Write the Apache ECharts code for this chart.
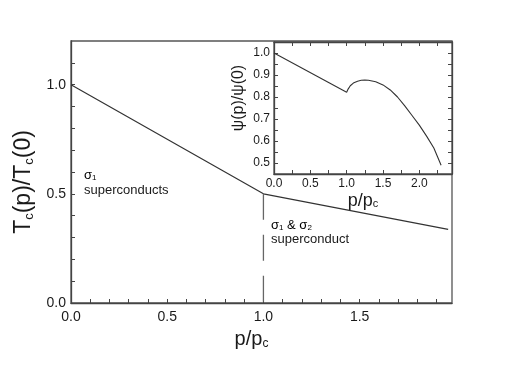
<!DOCTYPE html>
<html><head><meta charset="utf-8">
<script src="https://cdn.jsdelivr.net/npm/echarts@6/dist/echarts.min.js"></script>
<style>html,body{margin:0;padding:0;background:#fff}#c{width:524px;height:365px}</style>
</head><body><div id="c"></div>
<script>
// Main panel: Tc(p)/Tc(0) vs p/pc
const mainP = [0, 1.0, 1.96];
const mainTc = [1.0, 0.5, 0.337];
// dashed boundary at p = pc
const dashP = [1.0, 1.0];
const dashTc = [0.5, 0.0];
// Inset: psi(p)/psi(0) vs p/pc
const insetP = [0, 1.0, 1.02, 1.05, 1.1, 1.15, 1.2, 1.25, 1.3, 1.4, 1.5, 1.6, 1.7, 1.8, 1.9, 2.0, 2.1, 2.2, 2.3];
const insetPsi = [1.0, 0.822, 0.836, 0.851, 0.865, 0.872, 0.876, 0.877, 0.876, 0.869, 0.855, 0.832, 0.800, 0.760, 0.716, 0.672, 0.622, 0.568, 0.490];
// tick label steps
const mainXLabelStep = 0.5, mainYLabelStep = 0.5, insetXLabelStep = 0.5, insetYLabelStep = 0.1;

const zip = (a, b) => a.map((v, i) => [v, b[i]]);
const isMult = (v, s) => Math.abs(v / s - Math.round(v / s)) < 1e-6;
const FONT = 'Liberation Sans, Arial, Helvetica, sans-serif';
const AX = '#444', TXT = '#1a1a1a';

function axisBase(extra) {
  return Object.assign({
    type: 'value',
    axisLine: { show: true, onZero: false, lineStyle: { color: AX, width: 1.3 } },
    axisTick: { show: true, inside: true, length: 4, lineStyle: { color: AX, width: 1 } },
    splitLine: { show: false },
    nameTextStyle: { fontFamily: FONT, color: TXT }
  }, extra);
}

const chart = echarts.init(document.getElementById('c'), null, { renderer: 'canvas' });
const subRich = (big, small, drop) => ({
  a: { fontSize: big, fontFamily: FONT, color: TXT, lineHeight: big, verticalAlign: 'top' },
  s: { fontSize: small, fontFamily: FONT, color: TXT, lineHeight: small, verticalAlign: 'bottom', padding: [drop, 0, 0, 0] }
});

chart.setOption({
  backgroundColor: '#fff',
  animation: false,
  grid: [
    { left: 71, top: 41, right: 72, bottom: 62, show: true, borderColor: '#555', borderWidth: 1.3, backgroundColor: 'transparent' },
    { left: 274, top: 42, right: 72, bottom: 191, show: true, borderColor: '#555', borderWidth: 1.3, backgroundColor: '#fff' }
  ],
  xAxis: [
    axisBase({ gridIndex: 0, min: 0, max: 1.98, interval: 0.1,
      axisLabel: { fontFamily: FONT, fontSize: 14, color: TXT, margin: 7, showMaxLabel: false,
        formatter: v => isMult(v, mainXLabelStep) ? v.toFixed(1) : '' },
      name: '{a|p/p}{s|c}', nameLocation: 'middle', nameGap: 25,
      nameTextStyle: { rich: subRich(20, 12, 9), padding: [0, 20, 0, 0] } }),
    axisBase({ gridIndex: 1, min: 0, max: 2.45, interval: 0.25,
      axisLabel: { fontFamily: FONT, fontSize: 12, color: TXT, margin: 4, showMaxLabel: false,
        formatter: v => (isMult(v, insetXLabelStep) && v <= 2.01) ? v.toFixed(1) : '' },
      name: '{a|p/p}{s|c}', nameLocation: 'middle', nameGap: 17,
      nameTextStyle: { rich: subRich(18, 11, 8) } }),
    axisBase({ gridIndex: 1, position: 'top', min: 0, max: 2.45, interval: 0.25,
      axisLabel: { show: false } })
  ],
  yAxis: [
    axisBase({ gridIndex: 0, min: 0, max: 1.2, interval: 0.1,
      axisLabel: { fontFamily: FONT, fontSize: 14, color: TXT, margin: 5, showMaxLabel: false,
        formatter: v => isMult(v, mainYLabelStep) ? v.toFixed(1) : '' },
      name: '{a|T}{s|c}{a|(p)/T}{s|c}{a|(0)}', nameLocation: 'middle', nameGap: 26, nameRotate: 90,
      nameTextStyle: { rich: subRich(23, 13, 10), padding: [0, 20, 0, 0] } }),
    axisBase({ gridIndex: 1, min: 0.45, max: 1.05, interval: 0.05,
      axisLabel: { fontFamily: FONT, fontSize: 12, color: TXT, margin: 4, showMaxLabel: false, showMinLabel: false,
        formatter: v => isMult(v, insetYLabelStep) ? v.toFixed(1) : '' },
      name: 'ψ(p)/ψ(0)', nameLocation: 'middle', nameGap: 27, nameRotate: 90,
      nameTextStyle: { fontFamily: FONT, fontSize: 16, color: TXT, padding: [0, 0, 0, 20] } }),
    axisBase({ gridIndex: 1, position: 'right', min: 0.45, max: 1.05, interval: 0.05,
      axisLabel: { show: false } })
  ],
  graphic: [
    { type: 'text', left: 84, top: 168, style: { text: '{a|σ}{s|1}', rich: subRich(13, 8, 6) } },
    { type: 'text', left: 84, top: 184, style: { text: 'superconducts', font: '13px ' + FONT, fill: TXT } },
    { type: 'text', left: 271, top: 218, style: { text: '{a|σ}{s|1}{a| & σ}{s|2}', rich: subRich(13, 8, 6) } },
    { type: 'text', left: 271, top: 233, style: { text: 'superconduct', font: '13px ' + FONT, fill: TXT } }
  ],
  series: [
    { type: 'line', xAxisIndex: 0, yAxisIndex: 0, data: zip(mainP, mainTc), symbol: 'none',
      lineStyle: { color: '#333', width: 1.2 } },
    { type: 'line', xAxisIndex: 0, yAxisIndex: 0, data: zip(dashP, dashTc), symbol: 'none',
      lineStyle: { color: '#666', width: 1.3, type: [26, 15] } },
    { type: 'line', xAxisIndex: 1, yAxisIndex: 1, data: zip(insetP, insetPsi), symbol: 'none',
      lineStyle: { color: '#333', width: 1.1 } }
  ]
});
</script></body></html>
